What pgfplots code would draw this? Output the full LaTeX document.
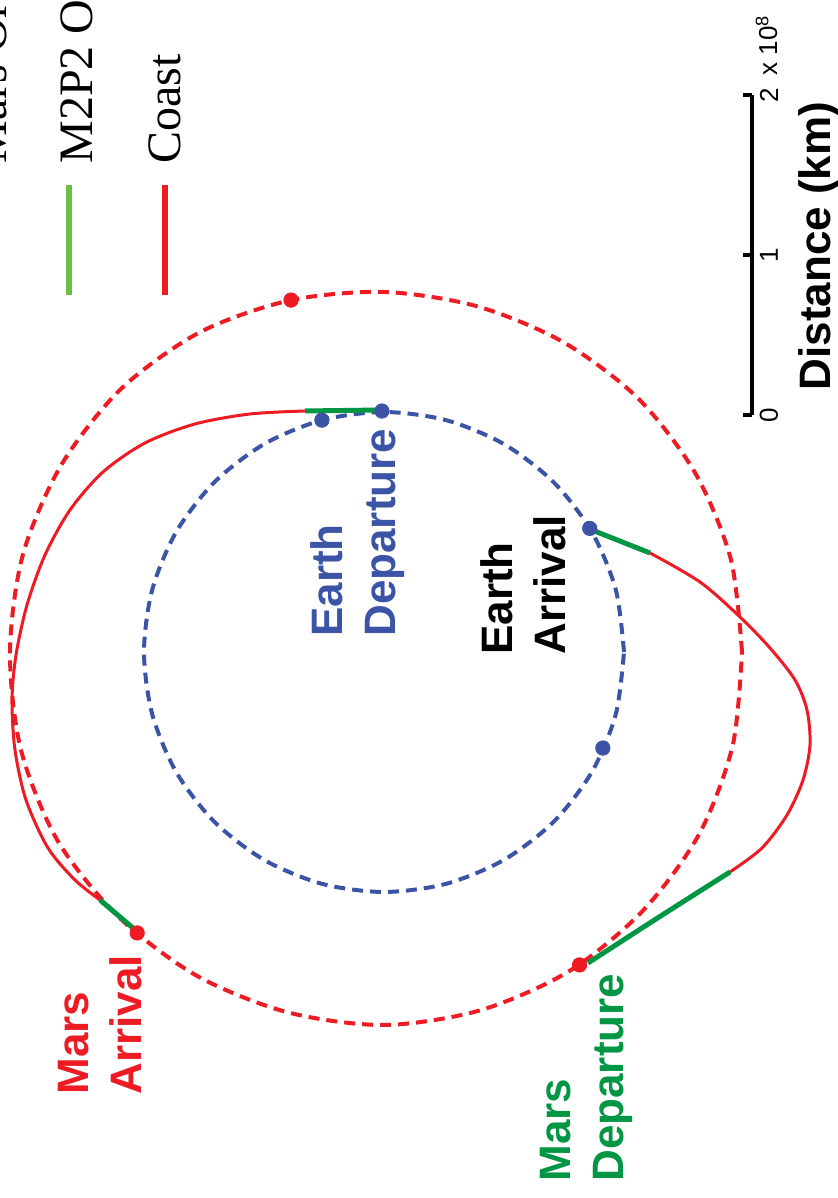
\documentclass[border=0pt]{standalone}
\usepackage{pgfplots}
\pgfplotsset{compat=1.18}
\usepackage{fontspec}
\setmainfont{Liberation Sans}
\newfontfamily\legendfont{Liberation Serif}

\definecolor{earthblue}{RGB}{60,84,165}
\definecolor{marsred}{RGB}{237,28,36}
\definecolor{thrustgreen}{RGB}{0,150,68}
\definecolor{keygreen}{RGB}{108,190,69}

\begin{document}
\begin{tikzpicture}
\begin{axis}[
  x=0.5pt, y=0.5pt,
  xmin=-384, xmax=454, ymin=-546, ymax=652,
  axis lines=none, clip=false,
]
\coordinate (bl) at (rel axis cs:0,0);
\coordinate (tr) at (rel axis cs:1,1);

% Mars orbit (polar: angle in degrees, radius in plot units)
\addplot[marsred, line width=2pt, dash pattern=on 5.5pt off 3.5pt, smooth, data cs=polar]
  coordinates {
  (0,358) (15,359) (30,359) (45,359) (60,358) (75,358) (90,360) (105,364)
  (120,369) (135,372) (150,373) (165,374) (180,374) (195,376) (210,377)
  (225,375) (240,374) (255,373) (270,373) (285,371) (300,369) (315,366)
  (330,364) (345,361) (360,358)};

% Earth orbit
\addplot[earthblue, line width=2pt, dash pattern=on 5.5pt off 3.5pt, smooth, data cs=polar]
  coordinates {
  (0,240) (15,240) (30,240) (45,240) (60,240) (75,240) (90,240) (105,240)
  (120,240) (135,240) (150,240) (165,240) (180,240) (195,240) (210,240)
  (225,240) (240,240) (255,240) (270,240) (285,240) (300,240) (315,240)
  (330,240) (345,240) (360,240)};

% Outbound coast arc
\addplot[marsred, line width=1.5pt, smooth] coordinates {
  (-79,241) (-134,238) (-189,228) (-239,209) (-281,180) (-314,142)
  (-339,97) (-357,47) (-368,-3) (-372,-48) (-369,-98) (-358,-148)
  (-336,-196) (-309,-228) (-284,-248)};
% Return coast arc
\addplot[marsred, line width=1.5pt, smooth] coordinates {
  (346,-220) (378,-196) (403,-163) (419,-128) (426,-93) (423,-58)
  (411,-28) (386,4) (356,35) (316,70) (266,99)};

% Thrust arcs
\addplot[thrustgreen, line width=2.5pt] coordinates {(-2,242) (-79,241)};
\addplot[thrustgreen, line width=2.5pt] coordinates {(-284,-248) (-251,-276) (-247,-281)};
\addplot[thrustgreen, line width=2.5pt, smooth] coordinates {(204,-311) (272,-267) (346,-220)};
\addplot[thrustgreen, line width=2.5pt] coordinates {(266,99) (213,120) (206,124)};

% Planet positions
\addplot[only marks, mark=*, mark size=3.6pt, color=earthblue, data cs=polar]
  coordinates {(90.5,241) (105,240) (31,240) (-23.7,239)};
\addplot[only marks, mark=*, mark size=3.6pt, color=marsred, data cs=polar]
  coordinates {(104.8,364) (228.7,374) (-58,369)};

% Key
\addplot[keygreen, line width=3pt] coordinates {(-315,467) (-315,357)};
\addplot[marsred, line width=3pt] coordinates {(-219,467) (-219,357)};
\node[rotate=90, anchor=base west, inner sep=0pt, font=\legendfont\fontsize{24}{28}\selectfont]
  at (axis cs:-378,488) {Mars Orbit};
\node[rotate=90, anchor=base west, inner sep=0pt, font=\legendfont\fontsize{24}{28}\selectfont]
  at (axis cs:-292,488) {M2P2 On};
\node[rotate=90, anchor=base west, inner sep=0pt, font=\legendfont\fontsize{24}{28}\selectfont]
  at (axis cs:-204,488) {Coast};

% Distance scale
\addplot[black, line width=2pt] coordinates {(368,557) (368,237)};
\addplot[black, line width=2pt] coordinates {(359,557) (368,557)};
\addplot[black, line width=2pt] coordinates {(359,397) (368,397)};
\addplot[black, line width=2pt] coordinates {(359,237) (368,237)};
\node[rotate=90, anchor=center, inner sep=0pt, font=\fontsize{13}{15}\selectfont] at (axis cs:385,237) {0};
\node[rotate=90, anchor=center, inner sep=0pt, font=\fontsize{13}{15}\selectfont] at (axis cs:385,397) {1};
\node[rotate=90, anchor=center, inner sep=0pt, font=\fontsize{13}{15}\selectfont] at (axis cs:385,557) {2};
\node[rotate=90, anchor=base west, inner sep=0pt, font=\fontsize{13}{15}\selectfont] at (axis cs:393,576) {x 10\textsuperscript{8}};
\node[rotate=90, anchor=north, inner sep=0pt, font=\bfseries\fontsize{22}{26}\selectfont] at (axis cs:414,406) {Distance (km)};

% Event labels
\node[rotate=90, anchor=north west, align=left, inner sep=0pt, text=earthblue,
  font=\bfseries\fontsize{22}{26.5}\selectfont] at (axis cs:-74,15) {Earth\\Departure};
\node[rotate=90, anchor=north west, align=left, inner sep=0pt, text=black,
  font=\bfseries\fontsize{22}{26.5}\selectfont] at (axis cs:96,-3) {Earth\\Arrival};
\node[rotate=90, anchor=north west, align=left, inner sep=0pt, text=marsred,
  font=\bfseries\fontsize{22}{26.5}\selectfont] at (axis cs:-326,-443) {Mars\\Arrival};
\node[rotate=90, anchor=north west, align=left, inner sep=0pt, text=thrustgreen,
  font=\bfseries\fontsize{22}{26.5}\selectfont] at (axis cs:156,-530) {Mars\\Departure};
\end{axis}
\pgfresetboundingbox
\useasboundingbox (bl) rectangle (tr);
\end{tikzpicture}
\end{document}
